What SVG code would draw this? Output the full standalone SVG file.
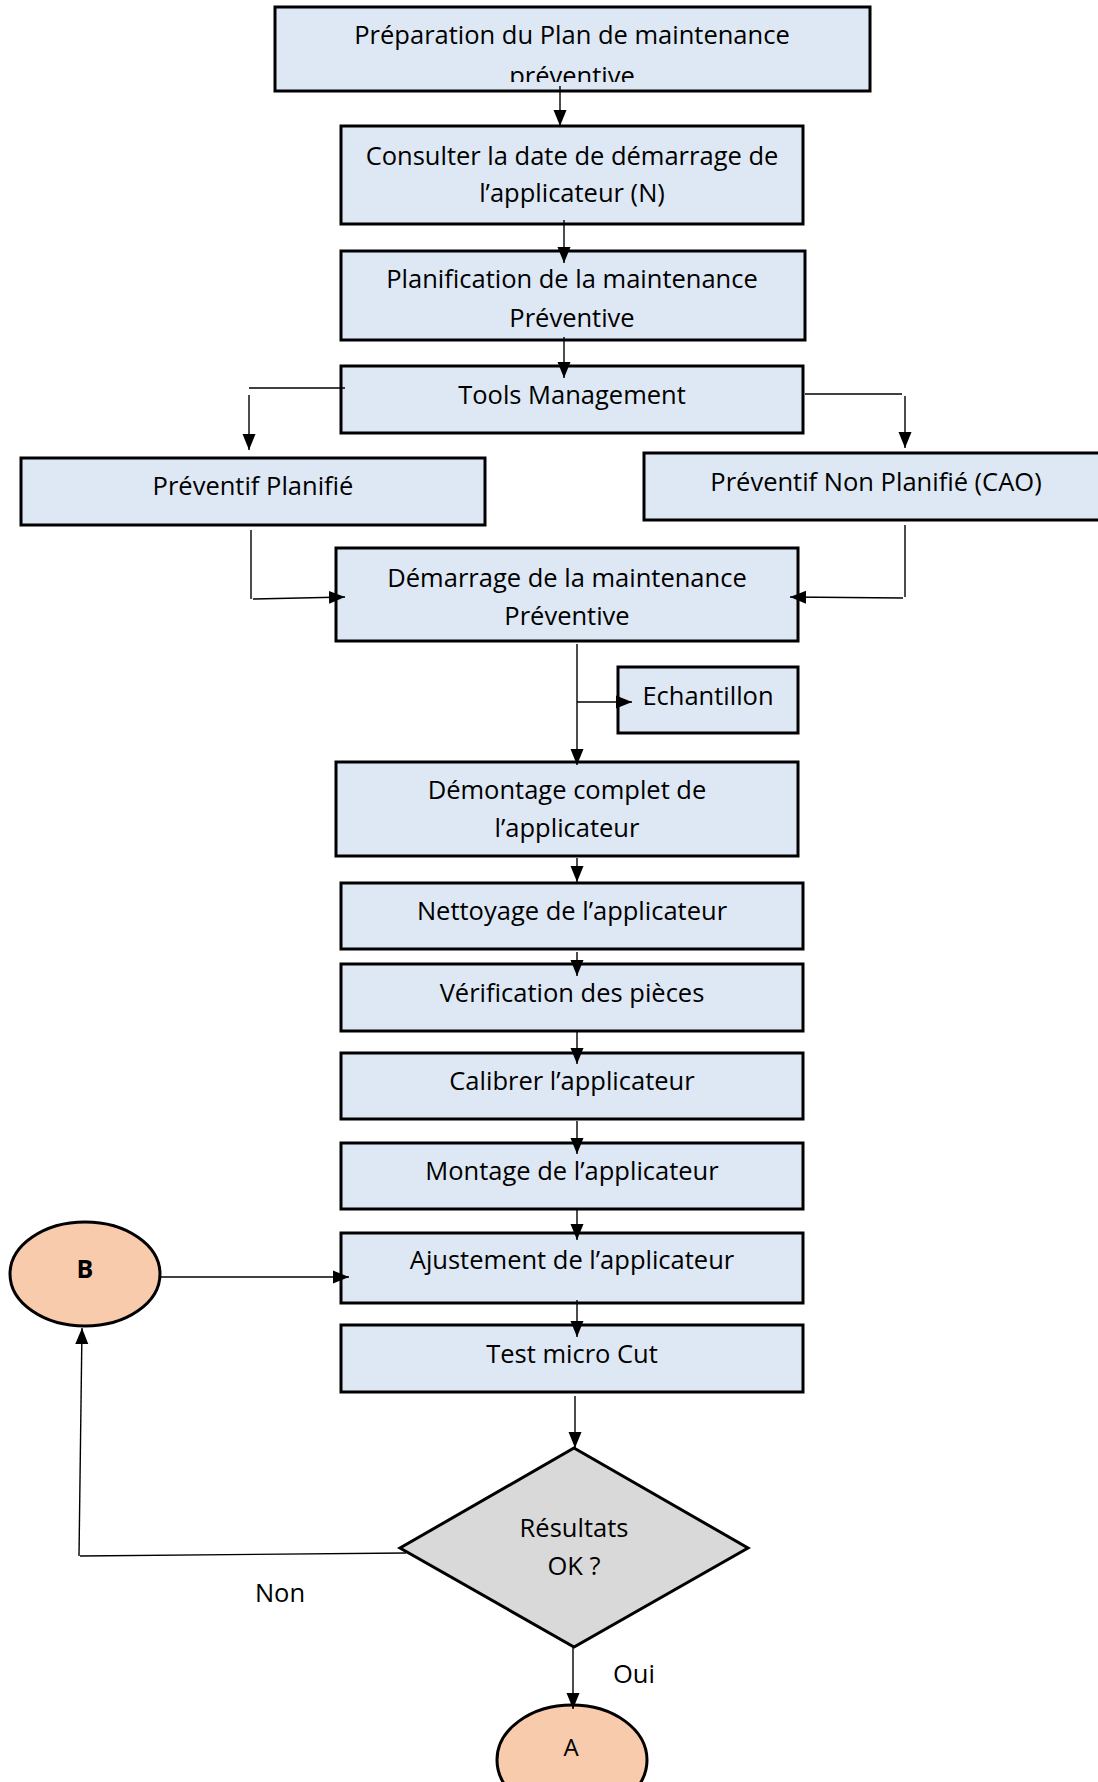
<svg xmlns="http://www.w3.org/2000/svg" width="1098" height="1782" viewBox="0 0 1098 1782">
<style>
.box{fill:#dee8f4;stroke:#000;stroke-width:3}
.t{font-family:"Open Sans","Liberation Sans",sans-serif;font-size:25.5px;fill:#000;text-anchor:middle}
.c{fill:none;stroke:#000;stroke-width:1.4}
.circ{fill:#f8cbad;stroke:#000;stroke-width:3}
.dia{fill:#d9d9d9;stroke:#000;stroke-width:3}
</style>
<defs>
<marker id="ar" markerUnits="userSpaceOnUse" markerWidth="16" markerHeight="14" viewBox="0 0 16 14" refX="16" refY="7" orient="auto">
<path d="M0,0.5 L16,7 L0,13.5 Z" fill="#000"/>
</marker>
<clipPath id="clip1"><rect x="275" y="0" width="595" height="82"/></clipPath>
</defs>

<g id="n1">
<rect class="box" x="275" y="7" width="595" height="84"/>
<g clip-path="url(#clip1)">
<text class="t" x="572" y="44">Préparation du Plan de maintenance</text>
<text class="t" x="572" y="85">préventive</text>
</g>
</g>
<g id="n2">
<rect class="box" x="341" y="126" width="462" height="98"/>
<text class="t" x="572" y="165">Consulter la date de démarrage de</text>
<text class="t" x="572" y="202">l’applicateur (N)</text>
</g>
<g id="n3">
<rect class="box" x="341" y="251" width="464" height="89"/>
<text class="t" x="572" y="288">Planification de la maintenance</text>
<text class="t" x="572" y="327">Préventive</text>
</g>
<g id="n4">
<rect class="box" x="341" y="366" width="462" height="67"/>
<text class="t" x="572" y="404">Tools Management</text>
</g>
<g id="n5">
<rect class="box" x="21" y="458" width="464" height="67"/>
<text class="t" x="253" y="495">Préventif Planifié</text>
</g>
<g id="n6">
<rect class="box" x="644" y="453" width="470" height="67"/>
<text class="t" x="876" y="491">Préventif Non Planifié (CAO)</text>
</g>
<g id="n7">
<rect class="box" x="336" y="548" width="462" height="93"/>
<text class="t" x="567" y="587">Démarrage de la maintenance</text>
<text class="t" x="567" y="625">Préventive</text>
</g>
<g id="n8">
<rect class="box" x="618" y="667" width="180" height="66"/>
<text class="t" x="708" y="705">Echantillon</text>
</g>
<g id="n9">
<rect class="box" x="336" y="762" width="462" height="94"/>
<text class="t" x="567" y="799">Démontage complet de</text>
<text class="t" x="567" y="837">l’applicateur</text>
</g>
<g id="n10">
<rect class="box" x="341" y="883" width="462" height="66"/>
<text class="t" x="572" y="920">Nettoyage de l’applicateur</text>
</g>
<g id="n11">
<rect class="box" x="341" y="964" width="462" height="67"/>
<text class="t" x="572" y="1002">Vérification des pièces</text>
</g>
<g id="n12">
<rect class="box" x="341" y="1053" width="462" height="66"/>
<text class="t" x="572" y="1090">Calibrer l’applicateur</text>
</g>
<g id="n13">
<rect class="box" x="341" y="1143" width="462" height="66"/>
<text class="t" x="572" y="1180">Montage de l’applicateur</text>
</g>
<g id="n14">
<rect class="box" x="341" y="1233" width="462" height="70"/>
<text class="t" x="572" y="1269">Ajustement de l’applicateur</text>
</g>
<g id="n15">
<rect class="box" x="341" y="1325" width="462" height="67"/>
<text class="t" x="572" y="1363">Test micro Cut</text>
</g>
<g id="n16">
<polygon class="dia" points="574,1448 748,1548 574,1647 400,1548"/>
<text class="t" x="574" y="1537">Résultats</text>
<text class="t" x="574" y="1575">OK ?</text>
</g>
<g id="nB">
<ellipse class="circ" cx="85" cy="1274" rx="75" ry="52"/>
<text class="t" x="85" y="1278" style="font-weight:bold;font-size:25px">B</text>
</g>
<g id="nA">
<ellipse class="circ" cx="572" cy="1760" rx="75" ry="55"/>
<text class="t" x="571" y="1756" style="font-size:24px">A</text>
</g>

<g id="labels">
<text class="t" x="280" y="1602">Non</text>
<text class="t" x="634" y="1683">Oui</text>
</g>

<g id="connectors">
<path class="c" d="M560,86 V126" marker-end="url(#ar)"/>
<path class="c" d="M564,220 V263" marker-end="url(#ar)"/>
<path class="c" d="M564,337 V378" marker-end="url(#ar)"/>
<path class="c" d="M345,388 H249"/>
<path class="c" d="M249,395 V450" marker-end="url(#ar)"/>
<path class="c" d="M805,394 H902"/>
<path class="c" d="M905,396 V448" marker-end="url(#ar)"/>
<path class="c" d="M251,530 V599"/>
<path class="c" d="M253,599 L345,597" marker-end="url(#ar)"/>
<path class="c" d="M905,525 V597"/>
<path class="c" d="M903,598 L790,597" marker-end="url(#ar)"/>
<path class="c" d="M577,644 V765" marker-end="url(#ar)"/>
<path class="c" d="M577,702 H632" marker-end="url(#ar)"/>
<path class="c" d="M577,858 V882" marker-end="url(#ar)"/>
<path class="c" d="M577,952 V976" marker-end="url(#ar)"/>
<path class="c" d="M577,1032 V1064" marker-end="url(#ar)"/>
<path class="c" d="M577,1121 V1154" marker-end="url(#ar)"/>
<path class="c" d="M577,1210 V1240" marker-end="url(#ar)"/>
<path class="c" d="M160,1277 H349" marker-end="url(#ar)"/>
<path class="c" d="M577,1300 V1337" marker-end="url(#ar)"/>
<path class="c" d="M575,1396 V1448" marker-end="url(#ar)"/>
<path class="c" d="M406,1553 L80,1556"/>
<path class="c" d="M79,1556 L82,1328" marker-end="url(#ar)"/>
<path class="c" d="M573,1647 V1709" marker-end="url(#ar)"/>
</g>
</svg>
